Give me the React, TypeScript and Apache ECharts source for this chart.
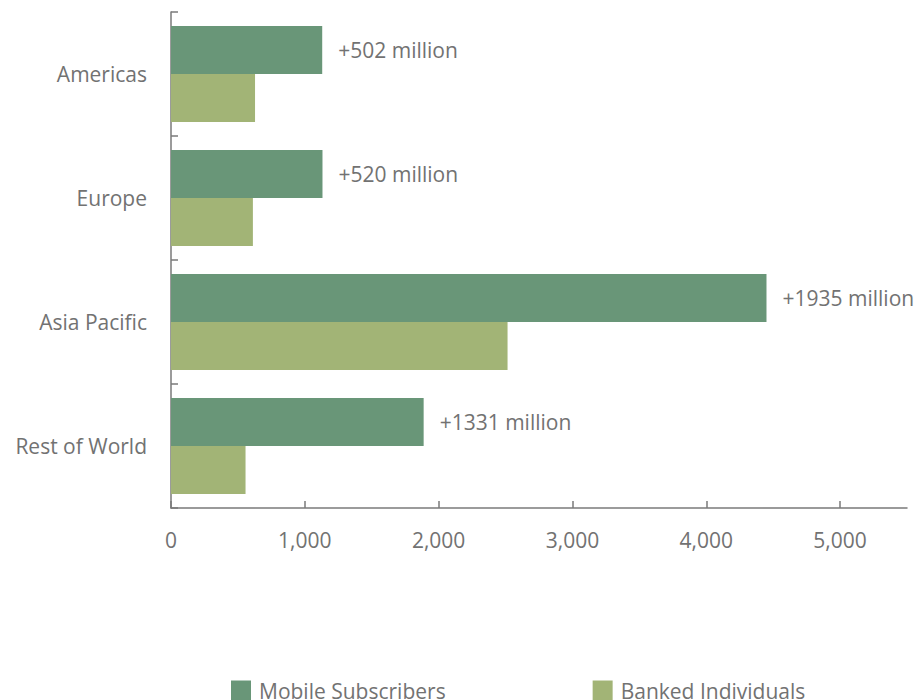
import React, { useEffect, useRef } from "react";
import * as echarts from "echarts";

const categories = ["Americas", "Europe", "Asia Pacific", "Rest of World"];
const mobileSubscribers = [1130, 1132, 4450, 1888];
const bankedIndividuals = [628, 612, 2515, 557];
const gapLabels = ["+502 million", "+520 million", "+1935 million", "+1331 million"];
const xTicks = [0, 1000, 2000, 3000, 4000, 5000];

const FONT = "'Open Sans', 'Noto Sans', sans-serif";
const TEXT = "#727272";
const AXIS = "#7a7a7a";
const FS = 21;

export default function App() {
  const ref = useRef<HTMLDivElement>(null);
  useEffect(() => {
    if (!ref.current) return;
    const chart = echarts.init(ref.current, undefined, { renderer: "svg" });
    chart.setOption({
      animation: false,
      textStyle: { fontFamily: FONT },
      grid: { left: 171, top: 12, right: 9, bottom: 192 },
      legend: {
        left: 231,
        top: 680,
        padding: 0,
        itemWidth: 20,
        itemHeight: 20,
        itemGap: 147,
        icon: "rect",
        textStyle: { fontFamily: FONT, fontSize: FS, color: TEXT, padding: [0, 0, 0, 3] },
        data: ["Mobile Subscribers", "Banked Individuals"],
      },
      xAxis: {
        type: "value",
        min: 0,
        max: 5500,
        interval: 1000,
        splitLine: { show: false },
        axisLine: { show: true, lineStyle: { color: AXIS, width: 1.5 } },
        axisTick: { show: true, inside: true, length: 7, lineStyle: { color: AXIS, width: 1.5 }, customValues: xTicks },
        axisLabel: {
          color: TEXT,
          fontSize: FS,
          fontFamily: FONT,
          margin: 21,
          customValues: xTicks,
          formatter: (v: number) => v.toLocaleString("en-US"),
        },
      },
      yAxis: {
        type: "category",
        data: categories,
        inverse: true,
        axisLine: { show: true, lineStyle: { color: AXIS, width: 1.5 } },
        axisTick: { show: true, inside: true, length: 7, lineStyle: { color: AXIS, width: 1.5 } },
        axisLabel: { color: TEXT, fontSize: FS, fontFamily: FONT, margin: 24 },
      },
      series: [
        {
          name: "Mobile Subscribers",
          type: "bar",
          data: mobileSubscribers,
          barWidth: 48,
          barGap: "0%",
          itemStyle: { color: "#699678" },
          label: {
            show: true,
            position: "right",
            distance: 16,
            color: TEXT,
            fontSize: FS,
            fontFamily: FONT,
            formatter: (p: any) => gapLabels[p.dataIndex],
          },
        },
        {
          name: "Banked Individuals",
          type: "bar",
          data: bankedIndividuals,
          barWidth: 48,
          barGap: "0%",
          itemStyle: { color: "#a2b476" },
        },
      ],
    });
    return () => chart.dispose();
  }, []);
  return (
    <div
      ref={ref}
      style={{ position: "absolute", left: 0, top: 0, width: 916, height: 700 }}
    />
  );
}
